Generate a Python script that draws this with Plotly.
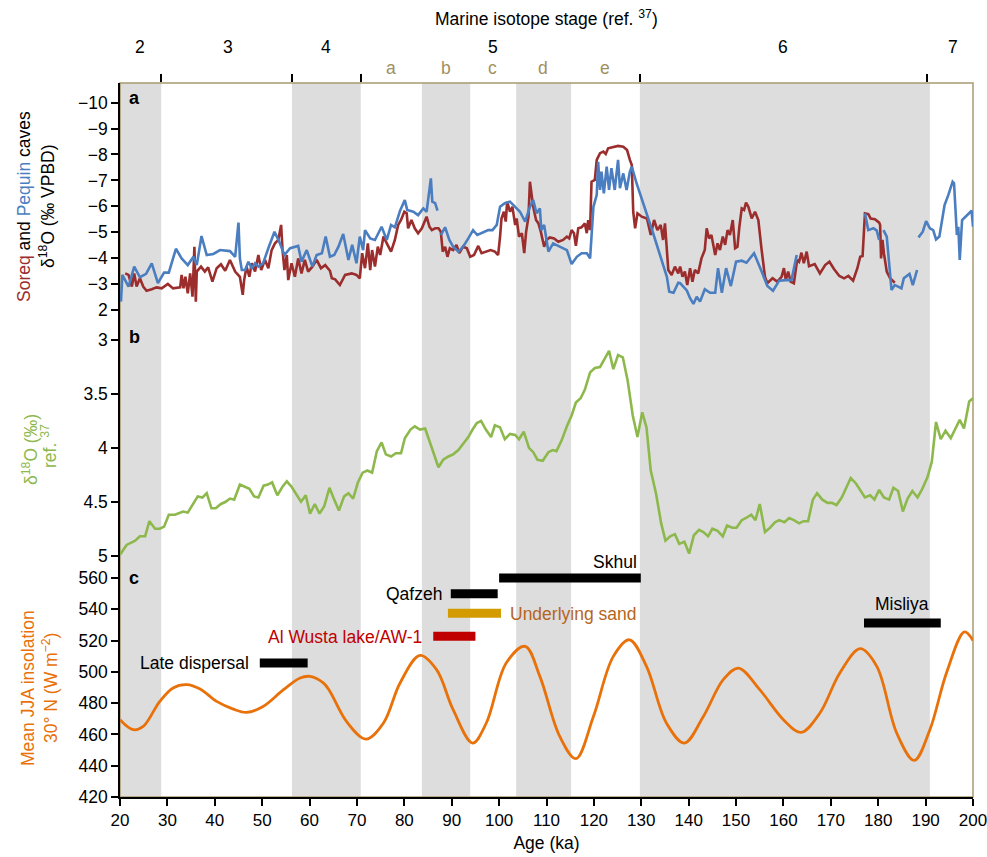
import plotly.graph_objects as go

# ---------------- data ----------------
# Panel a: Soreq (red) and Pequin (blue) cave d18O (per mil VPDB)
soreq_age = [21.1, 21.8, 22.5, 23.0, 23.5, 24.2, 24.9, 25.6, 26.7, 27.7, 28.8, 30.1, 31.2, 32.7, 33.0, 33.4, 33.8,
             34.3, 34.8, 35.3, 35.7, 36.0, 36.2, 37.1, 37.9, 38.6, 39.5, 40.4, 41.3, 42.2, 43.2, 44.3, 45.3, 45.9,
             46.2, 46.7, 47.3, 47.8, 48.5, 49.2, 49.8, 50.6, 51.3, 52.0, 52.7, 53.4, 54.0, 54.3, 54.7, 55.2, 55.5,
             56.2, 56.9, 57.6, 58.3, 59.0, 59.7, 60.6, 61.5, 62.4, 63.3, 64.3, 64.7, 65.4, 66.4, 67.5, 68.9, 69.9,
             70.6, 71.1, 71.7, 72.3, 72.8, 73.2, 73.8, 74.4, 74.9, 75.6, 76.3, 77.2, 78.0, 78.7, 79.3, 80.0, 80.5,
             80.8, 81.5, 82.2, 82.9, 83.7, 84.7, 85.3, 85.8, 86.5, 87.2, 87.7, 88.1, 88.6, 89.1, 89.6, 90.3, 91.0,
             91.6, 92.4, 93.2, 93.9, 94.7, 95.6, 96.3, 97.2, 98.2, 99.1, 99.8, 100.2, 100.5, 101.0, 101.4, 101.7,
             102.3, 102.8, 103.4, 103.7, 104.2, 104.8, 105.3, 105.7, 106.2, 106.5, 106.9, 107.2, 107.8, 108.3,
             108.8, 109.2, 109.5, 110.0, 110.7, 111.6, 112.5, 113.5, 114.3, 114.8, 115.3, 115.8, 116.2, 116.7,
             117.4, 118.1, 118.5, 118.8, 119.2, 119.5, 120.2, 120.6, 121.3, 122.0, 122.5, 123.0, 124.1, 125.1,
             126.2, 127.0, 127.6, 128.0, 128.3, 128.7, 129.2, 130.1, 131.2, 132.0, 132.7, 133.4, 134.1, 134.6,
             135.0, 135.7, 136.4, 137.1, 137.8, 138.2, 138.7, 139.2, 139.7, 140.3, 140.8, 141.3, 142.0, 142.7,
             143.4, 143.8, 144.3, 144.8, 145.6, 146.1, 146.6, 147.2, 147.7, 148.2, 148.7, 149.3, 149.8, 150.3,
             150.7, 151.2, 151.7, 152.1, 152.6, 153.3, 154.0, 154.7, 155.4, 156.1, 156.6, 157.7, 158.7, 159.6,
             160.1, 160.5, 161.0, 161.5, 162.2, 162.9, 163.3, 163.8, 164.3, 164.9, 165.4, 166.6, 167.7, 168.8,
             169.7, 170.7, 171.8, 172.8, 173.7, 174.7, 175.6, 176.2, 176.7, 177.2, 177.9, 178.4, 179.3, 180.2,
             180.4, 180.6, 180.9, 181.2, 181.8, 182.5, 183.5]
soreq_d18o = [-3.41, -3.35, -2.90, -3.41, -2.90, -3.22, -2.90, -2.74, -2.80, -2.87, -2.83, -3.00, -2.83, -2.87,
              -3.35, -2.83, -3.28, -2.64, -3.41, -2.51, -4.44, -2.32, -3.48, -3.67, -3.48, -3.64, -3.09, -3.61,
              -3.76, -3.51, -3.93, -3.48, -3.28, -2.58, -3.15, -3.67, -3.28, -3.80, -3.48, -4.12, -3.54, -3.93,
              -3.61, -4.31, -4.57, -4.70, -5.28, -4.31, -3.54, -4.12, -3.15, -3.80, -3.28, -3.99, -3.41, -3.93,
              -3.48, -3.67, -3.93, -3.61, -3.73, -3.51, -3.22, -3.18, -2.96, -3.35, -3.41, -3.35, -3.22, -4.19,
              -3.61, -4.57, -3.54, -4.31, -3.67, -4.44, -4.12, -4.83, -4.57, -4.25, -4.70, -5.28, -5.47, -5.79,
              -5.73, -5.15, -5.47, -5.15, -4.96, -5.15, -5.60, -5.21, -5.08, -5.15, -5.15, -5.02, -4.25, -4.44,
              -4.05, -4.38, -4.31, -4.51, -4.19, -4.44, -4.38, -4.05, -4.12, -4.47, -4.19, -4.25, -4.31, -4.25,
              -4.12, -4.83, -5.53, -5.79, -5.41, -6.18, -5.79, -5.98, -5.28, -5.53, -4.83, -4.96, -4.19, -5.02,
              -5.60, -6.95, -6.44, -5.98, -5.47, -5.34, -5.02, -4.70, -4.44, -4.70, -4.80, -4.76, -4.63, -4.70,
              -4.83, -4.76, -5.08, -4.96, -4.47, -5.15, -5.19, -5.34, -4.96, -5.47, -5.08, -6.95, -7.02, -7.79,
              -8.05, -8.11, -8.02, -8.24, -8.28, -8.33, -8.30, -8.17, -7.79, -7.59, -5.79, -5.15, -5.73, -5.60,
              -5.53, -4.89, -5.47, -5.08, -5.28, -4.70, -5.34, -3.54, -3.35, -3.67, -3.41, -3.67, -3.28, -3.48,
              -2.96, -3.61, -3.09, -3.54, -3.41, -3.99, -4.31, -5.15, -4.76, -4.89, -4.12, -4.57, -4.31, -4.83,
              -4.51, -5.08, -4.89, -5.47, -4.38, -4.44, -5.21, -5.92, -5.86, -6.14, -5.98, -5.53, -5.79, -5.47,
              -4.31, -3.28, -3.03, -3.22, -3.09, -3.28, -3.61, -3.15, -3.48, -3.09, -3.03, -3.93, -3.86, -4.21,
              -3.80, -4.25, -3.69, -3.77, -3.41, -3.73, -3.86, -3.57, -3.31, -3.22, -3.31, -3.13, -3.61, -4.05,
              -4.08, -5.73, -5.70, -5.53, -5.50, -5.37, -5.28, -3.99, -4.70, -4.19, -3.48, -3.22, -3.05]

pequin_age = [20.2, 20.5, 21.8, 23.0, 24.2, 25.5, 26.7, 28.0, 29.3, 30.3, 31.8, 33.0, 34.3, 35.5, 36.2, 37.2,
              38.3, 39.7, 41.1, 43.2, 44.3, 45.0, 45.3, 45.7, 46.4, 47.1, 47.8, 48.5, 49.2, 50.2, 51.3, 52.6,
              53.6, 54.7, 55.9, 57.6, 58.3, 59.4, 60.6, 61.5, 62.6, 63.4, 64.3, 65.2, 66.1, 67.1, 68.2, 69.0,
              69.9, 70.6, 71.3, 71.7, 72.8, 73.8, 75.2, 76.3, 77.2, 78.0, 79.1, 80.1, 80.6, 81.9, 82.9, 84.0,
              84.7, 85.6, 85.9, 86.5, 87.0, None,
              87.7, 88.6, 89.5, 90.3, 91.4, 92.4, 93.5, 94.5, 95.4, 96.7, 97.7, 98.6, 99.5, 100.2, 101.2, 102.3,
              103.4, 104.4, 105.5, 106.5, 107.2, 107.9, 108.6, 108.9, 109.5, 110.4, 111.4, 112.8, 114.3, 115.3,
              116.4, 117.4, 118.5, 119.2, 119.9, 120.6, 120.9, 121.3, 121.6, 122.1, 122.7, 123.2, 123.7, 124.4,
              125.1, 125.5, 126.2, 126.9, 127.6, 128.0, 129.0, 132.5, 135.4, 135.9, 136.8, 137.8, 138.2, 139.6,
              140.3, 141.0, 141.7, 142.4, 143.4, 144.5, 145.6, 146.2, 147.0, 147.9, 148.9, 150.0, 151.2, 152.2,
              153.8, 155.4, 156.6, 157.8, 159.1, 160.5, 161.7, 162.8, None,
              177.2, 177.9, 179.0, 179.7, 180.2, None,
              181.1, 181.8, 182.8, 183.5, 184.2, 184.9, 185.4, 186.6, 187.3, 188.2, None,
              188.5, 189.4, 190.1, 190.9, 191.6, 192.2, 192.9, 194.0, 194.8, 195.7, 196.0, 196.6, 196.9, 197.2,
              197.7, 198.8, 199.7, 200.0]
pequin_d18o = [-2.32, -3.35, -2.90, -3.67, -3.26, -3.39, -3.80, -3.03, -3.44, -3.44, -4.36, -3.99, -3.73, -4.05,
               -3.73, -4.85, -4.12, -4.16, -4.31, -4.27, -4.05, -5.37, -3.99, -3.54, -3.54, -3.86, -3.61, -3.80,
               -3.67, -3.80, -4.38, -5.02, -4.63, -4.12, -4.38, -4.47, -3.86, -4.31, -3.67, -4.12, -4.19, -4.83,
               -4.05, -4.12, -4.44, -4.93, -3.93, -4.51, -3.80, -4.83, -4.31, -5.08, -4.76, -4.70, -5.21, -4.70,
               -5.28, -5.19, -5.83, -6.24, -5.86, -5.79, -5.66, -5.92, -5.79, -7.08, -6.18, -6.12, -5.83, None,
               -4.89, -5.19, -4.70, -4.44, -4.25, -4.44, -4.76, -5.08, -4.89, -4.98, -5.08, -5.08, -5.28, -5.98,
               -6.12, -6.18, -5.98, -5.79, -5.41, -5.98, -6.24, -5.73, -5.92, -5.08, -5.28, -4.25, -4.57, -4.44,
               -4.31, -3.77, -4.05, -4.19, -4.19, -3.99, -5.98, -6.44, -7.72, -6.63, -7.34, -6.50, -7.53, -6.63,
               -7.47, -6.63, -7.79, -6.70, -7.27, -6.63, -7.34, -7.53, -6.89, -4.96, -3.28, -2.70, -2.66, -3.05,
               -3.03, -2.75, -2.45, -2.23, -2.51, -2.32, -2.80, -2.66, -2.66, -3.61, -2.66, -3.61, -2.92, -3.86,
               -3.90, -3.82, -4.19, -3.48, -2.92, -2.74, -3.13, -3.15, -3.15, -4.12, None,
               -5.73, -5.08, -5.15, -5.06, -4.70, None,
               -5.08, -4.83, -2.77, -2.96, -2.90, -2.83, -3.22, -3.39, -2.96, -3.54, None,
               -4.80, -5.02, -5.43, -5.15, -5.08, -4.72, -4.83, -6.05, -6.44, -6.95, -6.89, -4.89, -5.21, -3.93,
               -5.47, -5.66, -5.83, -5.21]

# Panel b: benthic d18O (ref. 37)
benthic_age = [20.0, 21.4, 23.2, 24.2, 25.3, 26.2, 27.4, 28.4, 29.3, 30.3, 31.6, 33.3, 34.3, 36.4, 37.4, 38.3,
               39.3, 40.2, 41.3, 42.3, 43.2, 44.1, 45.3, 46.4, 47.3, 48.3, 49.2, 50.3, 51.2, 52.1, 53.2, 54.3,
               55.2, 56.2, 57.3, 58.2, 59.2, 60.1, 61.1, 62.1, 63.1, 64.2, 65.2, 66.2, 67.3, 68.2, 69.2, 70.2,
               71.2, 72.2, 73.2, 74.2, 75.2, 76.1, 77.2, 78.2, 79.3, 80.1, 81.3, 82.2, 83.3, 84.4, 87.2, 88.2,
               89.3, 90.3, 91.4, 92.4, 93.5, 94.4, 95.3, 96.2, 97.2, 98.3, 99.1, 100.2, 101.2, 102.3, 103.4, 104.2,
               105.2, 106.3, 107.2, 108.1, 109.2, 110.4, 111.3, 112.1, 113.2, 114.3, 115.3, 116.2, 117.2, 118.1,
               119.2, 120.2, 121.3, 122.2, 123.2, 124.1, 125.1, 126.1, 127.1, 128.2, 129.2, 130.2, 131.1, 132.0,
               133.1, 134.2, 135.1, 136.1, 137.1, 138.0, 139.1, 140.1, 141.1, 142.2, 143.1, 144.1, 145.0, 146.1,
               147.2, 148.1, 149.2, 150.1, 151.2, 152.1, 153.2, 154.1, 155.0, 156.1, 157.2, 158.2, 159.1, 160.2,
               161.2, 162.2, 163.3, 164.2, 165.2, 166.2, 167.1, 168.2, 169.3, 170.2, 171.2, 172.3, 173.2, 174.2,
               175.3, 176.2, 177.2, 178.3, 179.2, 180.2, 181.2, 182.3, 183.2, 184.2, 185.2, 186.2, 187.2, 188.3,
               189.3, 190.4, 191.3, 192.2, 193.2, 194.2, 195.3, 196.3, 197.2, 198.1, 199.2, 200.0]
benthic_d18o = [4.99, 4.90, 4.86, 4.82, 4.82, 4.68, 4.75, 4.75, 4.73, 4.62, 4.62, 4.59, 4.60, 4.45, 4.46, 4.42,
                4.56, 4.56, 4.52, 4.50, 4.47, 4.48, 4.34, 4.36, 4.38, 4.45, 4.46, 4.35, 4.34, 4.32, 4.44, 4.36,
                4.31, 4.36, 4.44, 4.50, 4.44, 4.61, 4.52, 4.61, 4.54, 4.37, 4.48, 4.58, 4.45, 4.42, 4.47, 4.32,
                4.23, 4.21, 4.23, 4.03, 3.95, 4.06, 4.08, 4.05, 4.05, 3.91, 3.83, 3.80, 3.83, 3.82, 4.18, 4.11,
                4.08, 4.06, 4.02, 3.96, 3.90, 3.83, 3.77, 3.75, 3.83, 3.90, 3.79, 3.81, 3.92, 3.87, 3.88, 3.92,
                3.85, 4.00, 4.04, 4.11, 4.12, 4.04, 4.02, 4.03, 3.93, 3.80, 3.70, 3.58, 3.54, 3.46,
                3.30, 3.26, 3.25, 3.18, 3.10, 3.27, 3.14, 3.16, 3.37, 3.70, 3.90, 3.67, 3.81, 4.21,
                4.42, 4.70, 4.86, 4.82, 4.80, 4.89, 4.87, 4.98, 4.81, 4.76, 4.78, 4.82, 4.75, 4.77,
                4.82, 4.72, 4.74, 4.74, 4.67, 4.65, 4.62, 4.67, 4.52, 4.78, 4.74, 4.69, 4.67, 4.69,
                4.65, 4.67, 4.70, 4.68, 4.68, 4.48, 4.42, 4.48, 4.51, 4.51, 4.53, 4.46, 4.38, 4.28,
                4.33, 4.39, 4.46, 4.44, 4.48, 4.39, 4.46, 4.48, 4.37, 4.40, 4.59, 4.47, 4.40, 4.46,
                4.38, 4.27, 4.13, 3.76, 3.92, 3.84, 3.91, 3.82, 3.74, 3.82, 3.57, 3.54]

# Panel c: mean JJA insolation at 30 N (W m-2)
insol_age = [20.0, 22.8, 24.9, 28.4, 31.2, 34.1, 36.9, 40.4, 43.9, 46.7, 50.2, 54.5, 58.0, 60.1, 62.9, 64.3,
             67.8, 71.9, 75.6, 79.1, 83.3, 86.8, 90.3, 94.4, 97.3, 101.5, 105.5, 108.6, 112.8, 116.2, 119.9,
             124.1, 127.5, 131.1, 135.3, 139.1, 143.1, 147.3, 150.5, 155.0, 160.0, 163.7, 167.7, 171.9, 176.2,
             179.7, 183.9, 187.6, 190.9, 194.4, 198.2, 200.0]
insol_val = [469.4, 463.0, 465.1, 481.1, 489.7, 491.8, 489.0, 481.1, 476.2, 474.1, 477.9, 488.6, 496.1, 497.1,
             492.9, 487.5, 468.3, 457.0, 467.3, 492.9, 510.5, 501.4, 475.8, 454.5, 467.3, 505.7, 516.3, 497.1,
             458.7, 444.5, 471.5, 509.9, 520.5, 503.5, 467.3, 454.5, 471.5, 495.0, 502.4, 488.6, 469.4, 461.3,
             473.7, 499.3, 514.8, 503.5, 460.9, 443.4, 463.0, 499.3, 525.5, 520.0]

# Age ranges of sites / deposits (ka) and plotting level (W m-2)
site_names = ["Skhul", "Qafzeh", "Underlying sand", "Al Wusta lake/AW-1", "Late dispersal", "Misliya"]
site_start = [100.0, 89.8, 89.2, 86.1, 49.5, 177.0]
site_end = [129.9, 99.7, 100.4, 95.0, 59.6, 193.2]
site_level = [560.0, 550.0, 537.5, 522.7, 505.7, 531.2]
site_colors = ["#000000", "#000000", "#D39B00", "#C00000", "#000000", "#000000"]

# Marine isotope stage shading (ka)
band_start = [20.0, 56.3, 83.7, 103.6, 129.7]
band_end = [28.7, 70.8, 93.9, 115.2, 190.9]
stage_bounds = [28.7, 56.3, 70.8, 129.7, 190.3]
stage_labels = ["2", "3", "4", "5", "6", "7"]
stage_label_age = [24.2, 42.8, 63.5, 98.7, 159.9, 195.8]
substage_labels = ["a", "b", "c", "d", "e"]
substage_label_age = [77.2, 88.8, 98.5, 109.3, 122.3]

# ---------------- layout helpers ----------------
W, H = 987, 857
ML, MR, MT, MB = 120, 14, 83, 60
PH = H - MT - MB
PW = W - ML - MR


def py(p):  # pixel row -> paper y
    return (H - MB - p) / PH


def pxp(p):  # pixel column -> paper x
    return (p - ML) / PW


def kx(p):  # pixel column -> age
    return 20 + (p - ML) / (PW / 180)


RED = "#9B2D2D"
BLUE = "#4A7EC0"
GREEN = "#8DB84B"
ORANGE = "#E8710A"
KHAKI = "#A89B70"
FONT = "Liberation Sans, Arial, sans-serif"
TS = 17.5

fig = go.Figure()

fig.add_trace(go.Scatter(x=soreq_age, y=soreq_d18o, mode="lines", line=dict(color=RED, width=2.6),
                         xaxis="x", yaxis="y", showlegend=False))
fig.add_trace(go.Scatter(x=pequin_age, y=pequin_d18o, mode="lines", line=dict(color=BLUE, width=2.6),
                         xaxis="x", yaxis="y", showlegend=False, connectgaps=False))
fig.add_trace(go.Scatter(x=benthic_age, y=benthic_d18o, mode="lines", line=dict(color=GREEN, width=2.6),
                         xaxis="x", yaxis="y2", showlegend=False))
fig.add_trace(go.Scatter(x=insol_age, y=insol_val, mode="lines", line=dict(color=ORANGE, width=2.8,
                         shape="spline", smoothing=1.0), xaxis="x", yaxis="y3", showlegend=False))

for name, s, e, lv, c in zip(site_names, site_start, site_end, site_level, site_colors):
    fig.add_trace(go.Scatter(x=[s, e], y=[lv, lv], mode="lines", line=dict(color=c, width=9),
                             xaxis="x", yaxis="y3", showlegend=False, hoverinfo="skip"))

# invisible trace for top axis
fig.add_trace(go.Scatter(x=[20, 200], y=[-5, -5], mode="markers", marker=dict(opacity=0),
                         xaxis="x2", yaxis="y", showlegend=False, hoverinfo="skip"))

shapes = []
for s, e in zip(band_start, band_end):
    shapes.append(dict(type="rect", xref="x", yref="paper", x0=s, x1=e, y0=0, y1=1,
                       fillcolor="#DDDDDD", line=dict(width=0), layer="below"))
shapes.append(dict(type="rect", xref="paper", yref="paper", x0=0, x1=1, y0=0, y1=1,
                   line=dict(color=KHAKI, width=1.5), fillcolor="rgba(0,0,0,0)", layer="below"))

ann = []


def txt(text, x, y, xref="paper", color="black", size=TS, xanchor="center", angle=0):
    ann.append(dict(text=text, xref=xref, yref="paper", x=x, y=y, showarrow=False,
                    xanchor=xanchor, yanchor="middle", textangle=angle,
                    font=dict(size=size, color=color, family=FONT)))


txt("Marine isotope stage (ref. <sup>37</sup>)", pxp(546), py(18))
for lab, a in zip(stage_labels, stage_label_age):
    txt(lab, a, py(47), xref="x")
for lab, a in zip(substage_labels, substage_label_age):
    txt(lab, a, py(68), xref="x", color="#A09060")

for lab, yp in [("a", 98), ("b", 337), ("c", 578)]:
    txt("<b>" + lab + "</b>", pxp(134), py(yp), size=18)

# rotated axis titles
txt(f"<span style='color:{RED}'>Soreq</span> and <span style='color:{BLUE}'>Pequin</span> caves",
    pxp(24), py(207), angle=-90)
txt("δ<sup>18</sup>O (‰ VPBD)", pxp(47), py(206), angle=-90)
txt("δ<sup>18</sup>O (‰)", pxp(30), py(450), color=GREEN, angle=-90)
txt("ref. <sup>37</sup>", pxp(49), py(446), color=GREEN, angle=-90)
txt("Mean JJA insolation", pxp(28), py(688), color=ORANGE, angle=-90)
txt("30° N (W m<sup>−2</sup>)", pxp(50), py(688), color=ORANGE, angle=-90)

# bar labels
txt("Skhul", kx(639), py(562), xref="x", xanchor="right")
txt("Qafzeh", kx(444), py(594), xref="x", xanchor="right")
txt("Underlying sand", kx(508), py(614), xref="x", xanchor="left", color="#B5651D")
txt("Al Wusta lake/AW-1", kx(424), py(637), xref="x", xanchor="right", color="#C00000")
txt("Late dispersal", kx(251), py(663), xref="x", xanchor="right")
txt("Misliya", kx(902), py(604), xref="x")

yaxis_common = dict(showline=True, linecolor="black", linewidth=1.5, ticks="outside", ticklen=7,
                    tickcolor="black", tickwidth=1.5, showgrid=False, zeroline=False, automargin=False,
                    tickfont=dict(size=17.5, color="black"), anchor="x")

fig.update_layout(
    width=W, height=H,
    margin=dict(l=ML, r=MR, t=MT, b=MB, autoexpand=False),
    paper_bgcolor="white", plot_bgcolor="white",
    font=dict(family=FONT, color="black"),
    shapes=shapes, annotations=ann,
    xaxis=dict(domain=[0, 1], range=[20, 200], anchor="y3", tickvals=list(range(20, 201, 10)),
               ticks="outside", ticklen=7, tickcolor="black", tickwidth=1.5, showline=True,
               linecolor="black", linewidth=1.5, showgrid=False, zeroline=False, automargin=False,
               ticklabeloverflow="allow", tickfont=dict(size=17, color="black"),
               title=dict(text="Age (ka)", font=dict(size=TS, color="black"), standoff=8)),
    xaxis2=dict(overlaying="x", side="top", anchor="y", range=[20, 200], tickvals=stage_bounds,
                ticks="outside", ticklen=8, tickcolor="black", tickwidth=1.5, showticklabels=False,
                showline=False, showgrid=False, zeroline=False, automargin=False),
    yaxis=dict(domain=[py(330), 1], range=[-1.224, -10.76],
               tickvals=[-10, -9, -8, -7, -6, -5, -4, -3, -2],
               ticktext=["−10", "−9", "−8", "−7", "−6", "−5", "−4", "−3", "2"], **yaxis_common),
    yaxis2=dict(domain=[py(565), py(330)], range=[5.086, 2.907], tickvals=[3, 3.5, 4, 4.5, 5],
                ticktext=["3", "3.5", "4", "4.5", "5"], **yaxis_common),
    yaxis3=dict(domain=[0, py(565)], range=[420, 568.3], tickvals=list(range(420, 561, 20)),
                **yaxis_common),
)

fig.write_html("out.html")
